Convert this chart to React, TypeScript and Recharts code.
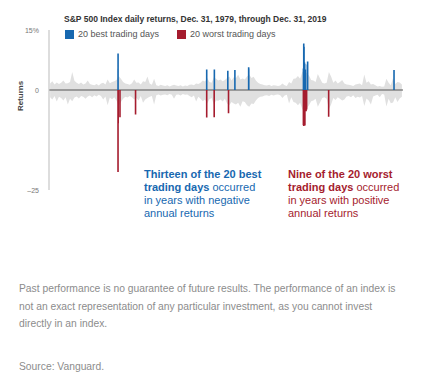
import { ComposedChart, Area, Line, XAxis, YAxis, ReferenceLine } from "recharts";

const BLUE = "#1768b0";
const RED = "#a51c2e";

// quarterly envelope of the grey daily-return noise, 1980–2019 (%)
const noiseHigh = [
	1.6, 2.2, 1.4, 1.9, 1.5, 1.8, 2.4, 1.6, 1.7, 2.0, 4.5, 2.3, 1.8, 1.5, 1.9, 1.4,
	1.6, 2.4, 1.5, 1.3, 1.2, 1.5, 1.1, 1.6, 1.8, 1.4, 2.6, 1.7, 2.0, 2.2, 2.5, 3.5,
	2.8, 2.0, 1.6, 1.5, 1.3, 1.7, 2.6, 1.8, 1.9, 1.4, 2.2, 2.0, 3.4, 1.6, 1.3, 2.8,
	1.2, 1.0, 1.3, 1.1, 1.0, 1.2, 0.9, 1.1, 1.3, 1.1, 1.0, 1.2, 0.9, 1.1, 1.0, 1.3,
	1.4, 1.2, 1.6, 1.5, 1.8, 2.4, 2.1, 3.0, 2.0, 1.8, 3.2, 2.8, 2.4, 2.6, 2.2, 2.5,
	3.0, 3.4, 2.4, 3.2, 3.0, 3.8, 2.6, 2.9, 2.6, 3.4, 3.9, 3.0, 3.3, 2.4, 1.8, 1.5,
	1.4, 1.2, 1.1, 1.3, 1.0, 1.2, 1.1, 1.0, 1.1, 1.6, 1.2, 1.0, 2.0, 1.6, 2.8, 2.9,
	3.5, 2.8, 4.5, 5.0, 4.2, 3.6, 2.5, 2.4, 2.0, 4.0, 2.9, 1.8, 1.6, 1.8, 4.5, 3.4,
	1.8, 2.4, 1.6, 2.0, 2.5, 1.6, 1.4, 1.3, 1.2, 1.0, 1.4, 1.5, 1.6, 1.2, 3.9, 1.8,
	2.2, 1.4, 1.5, 1.2, 0.9, 1.0, 0.8, 0.9, 2.8, 1.8, 1.2, 3.0, 1.5, 2.0, 1.9, 1.4,
];

const noiseLow = [
	-1.8, -2.4, -1.5, -2.9, -1.7, -2.0, -2.6, -1.8, -3.6, -2.2, -2.8, -1.9, -1.6, -2.1, -1.5, -1.7,
	-2.2, -1.6, -1.4, -1.8, -1.3, -1.6, -1.2, -1.5, -2.4, -1.6, -3.8, -1.9, -2.3, -1.8, -2.6, -4.0,
	-3.0, -2.2, -1.7, -1.9, -1.5, -1.8, -2.4, -2.0, -2.6, -1.5, -3.2, -2.4, -2.0, -1.7, -1.5, -3.6,
	-1.3, -1.1, -1.4, -1.2, -1.1, -1.3, -1.0, -1.2, -2.2, -1.2, -1.1, -1.4, -1.0, -1.2, -1.1, -1.5,
	-1.8, -1.4, -2.9, -1.7, -2.2, -2.8, -2.4, -3.4, -2.3, -2.0, -3.6, -2.6, -2.7, -2.4, -2.9, -2.2,
	-3.4, -3.8, -3.0, -3.4, -3.6, -3.2, -4.2, -2.8, -3.0, -3.8, -4.2, -3.4, -3.5, -2.6, -2.0, -1.7,
	-1.6, -1.4, -1.3, -1.5, -1.2, -1.4, -1.2, -1.1, -1.3, -2.0, -1.4, -1.2, -3.4, -1.8, -3.0, -3.2,
	-3.8, -3.2, -4.8, -5.2, -4.6, -3.8, -2.8, -2.6, -2.2, -4.2, -3.1, -2.0, -1.8, -2.2, -4.8, -3.6,
	-2.0, -2.5, -1.8, -2.2, -2.6, -2.4, -1.6, -1.5, -1.8, -1.3, -2.0, -1.7, -1.9, -1.5, -4.0, -2.1,
	-2.6, -3.6, -1.6, -1.4, -1.2, -1.8, -1.0, -1.1, -4.1, -2.2, -3.3, -3.1, -1.8, -3.0, -2.1, -1.7,
];

// 20 best and 20 worst trading days (decimal year, daily return %)
const bestDates = [
	1987.805, 1987.8, 1997.82, 1998.685, 2000.205, 2001.005, 2002.56, 2002.575,
	2008.75, 2008.785, 2008.82, 2008.865, 2008.885, 2008.895, 2008.96, 2008.795,
	2009.19, 2009.225, 2018.985, 2008.805,
];
const bestReturns = [
	9.1, 5.3, 5.1, 5.1, 4.8, 5.0, 5.7, 5.4, 5.4, 11.6, 10.8, 6.9, 6.3, 6.5, 5.1, 4.8,
	6.4, 7.1, 5.0, 4.2,
];

const worstDates = [
	1987.8, 1987.82, 1988.02, 1989.78, 1997.82, 1998.665, 2000.285, 2008.745,
	2008.775, 2008.78, 2008.79, 2008.81, 2008.85, 2008.865, 2008.885, 2008.89,
	2008.915, 2009.05, 2011.6, 2009.11,
];
const worstReturns = [
	-20.5, -8.3, -6.8, -6.1, -6.9, -6.8, -5.8, -8.8, -5.7, -7.6, -9.0, -6.1, -5.0,
	-5.2, -6.1, -6.7, -8.9, -5.3, -6.7, -4.9,
];

const yTicks = [15, 0, -25];

const noiseRows = noiseHigh.map((hi, i) => ({
	t: 1980 + i / 4 + 0.125,
	band: [noiseLow[i], hi],
}));

function spikes(dates: number[], values: number[]) {
	const idx = dates.map((_, i) => i).sort((a, b) => dates[a] - dates[b]);
	const rows: { t: number; v: number | null }[] = [];
	idx.forEach((i) => {
		rows.push({ t: dates[i], v: 0 });
		rows.push({ t: dates[i], v: values[i] });
		rows.push({ t: dates[i], v: null });
	});
	return rows;
}

const bestRows = spikes(bestDates, bestReturns);
const worstRows = spikes(worstDates, worstReturns);

const YTick = (props: any) => {
	const { x, y, payload } = props;
	const label = payload.value < 0 ? "\u2013" + Math.abs(payload.value) : String(payload.value);
	return (
		<text x={x - 2} y={y} dy={2.5} textAnchor="end" fontSize={7} fill="#777">
			{label}
			{payload.value === 15 && <tspan>%</tspan>}
		</text>
	);
};

const font = "'Liberation Sans', Arial, Helvetica, sans-serif";

export default function App() {
	return (
		<div
			style={{
				position: "absolute",
				left: 0,
				top: 0,
				width: 422,
				height: 381,
				background: "#fff",
				fontFamily: font,
				overflow: "hidden",
			}}
		>
			<div
				style={{
					position: "absolute",
					left: 64,
					top: 15,
					fontSize: 8.5,
					lineHeight: "9px",
					fontWeight: 700,
					color: "#333",
					whiteSpace: "nowrap",
				}}
			>
				S&amp;P 500 Index daily returns, Dec. 31, 1979, through Dec. 31, 2019
			</div>
			<div
				style={{
					position: "absolute",
					left: 65,
					top: 29.5,
					fontSize: 9,
					lineHeight: "9px",
					color: "#555",
					whiteSpace: "nowrap",
					display: "flex",
					alignItems: "center",
				}}
			>
				<span style={{ width: 9, height: 9, background: BLUE, display: "inline-block", marginRight: 4 }} />
				<span style={{ width: 99 }}>20 best trading days</span>
				<span style={{ width: 9, height: 9, background: RED, display: "inline-block", marginRight: 4 }} />
				<span>20 worst trading days</span>
			</div>
			<div
				style={{
					position: "absolute",
					left: 20,
					top: 96,
					fontSize: 8,
					fontWeight: 700,
					color: "#444",
					transform: "translate(-50%, -50%) rotate(-90deg)",
				}}
			>
				Returns
			</div>
			<div style={{ position: "absolute", left: 0, top: 0 }}>
				<ComposedChart width={422} height={200} margin={{ top: 30, right: 19, bottom: 10, left: 0 }}>
					<XAxis dataKey="t" type="number" domain={[1980, 2020]} allowDataOverflow hide />
					<YAxis
						type="number"
						domain={[-25, 15]}
						ticks={yTicks}
						interval={0}
						width={49}
						tickLine={false}
						axisLine={{ stroke: "#bbb" }}
						tick={<YTick />}
					/>
					<Area
						data={noiseRows}
						dataKey="band"
						type="linear"
						stroke="none"
						fill="#e0e0e0"
						fillOpacity={1}
						isAnimationActive={false}
					/>
					<ReferenceLine y={0} stroke="#555" strokeWidth={1.2} />
					<Line
						data={worstRows}
						dataKey="v"
						stroke={RED}
						strokeWidth={1.6}
						dot={false}
						activeDot={false}
						connectNulls={false}
						isAnimationActive={false}
					/>
					<Line
						data={bestRows}
						dataKey="v"
						stroke={BLUE}
						strokeWidth={1.6}
						dot={false}
						activeDot={false}
						connectNulls={false}
						isAnimationActive={false}
					/>
				</ComposedChart>
			</div>
			<div
				style={{
					position: "absolute",
					left: 144,
					top: 168,
					fontSize: 11,
					lineHeight: "13px",
					color: BLUE,
					whiteSpace: "nowrap",
				}}
			>
				<b>Thirteen of the 20 best</b>
				<br />
				<b>trading days</b> occurred
				<br />
				in years with negative
				<br />
				annual returns
			</div>
			<div
				style={{
					position: "absolute",
					left: 288,
					top: 168,
					fontSize: 11,
					lineHeight: "13px",
					color: RED,
					whiteSpace: "nowrap",
				}}
			>
				<b>Nine of the 20 worst</b>
				<br />
				<b>trading days</b> occurred
				<br />
				in years with positive
				<br />
				annual returns
			</div>
			<div
				style={{
					position: "absolute",
					left: 19,
					top: 280,
					fontSize: 10.3,
					lineHeight: "17.5px",
					color: "#8c8c8c",
					whiteSpace: "nowrap",
				}}
			>
				Past performance is no guarantee of future results. The performance of an index is
				<br />
				not an exact representation of any particular investment, as you cannot invest
				<br />
				directly in an index.
			</div>
			<div
				style={{
					position: "absolute",
					left: 19,
					top: 358,
					fontSize: 10.3,
					lineHeight: "17.5px",
					color: "#8c8c8c",
					whiteSpace: "nowrap",
				}}
			>
				Source: Vanguard.
			</div>
		</div>
	);
}
